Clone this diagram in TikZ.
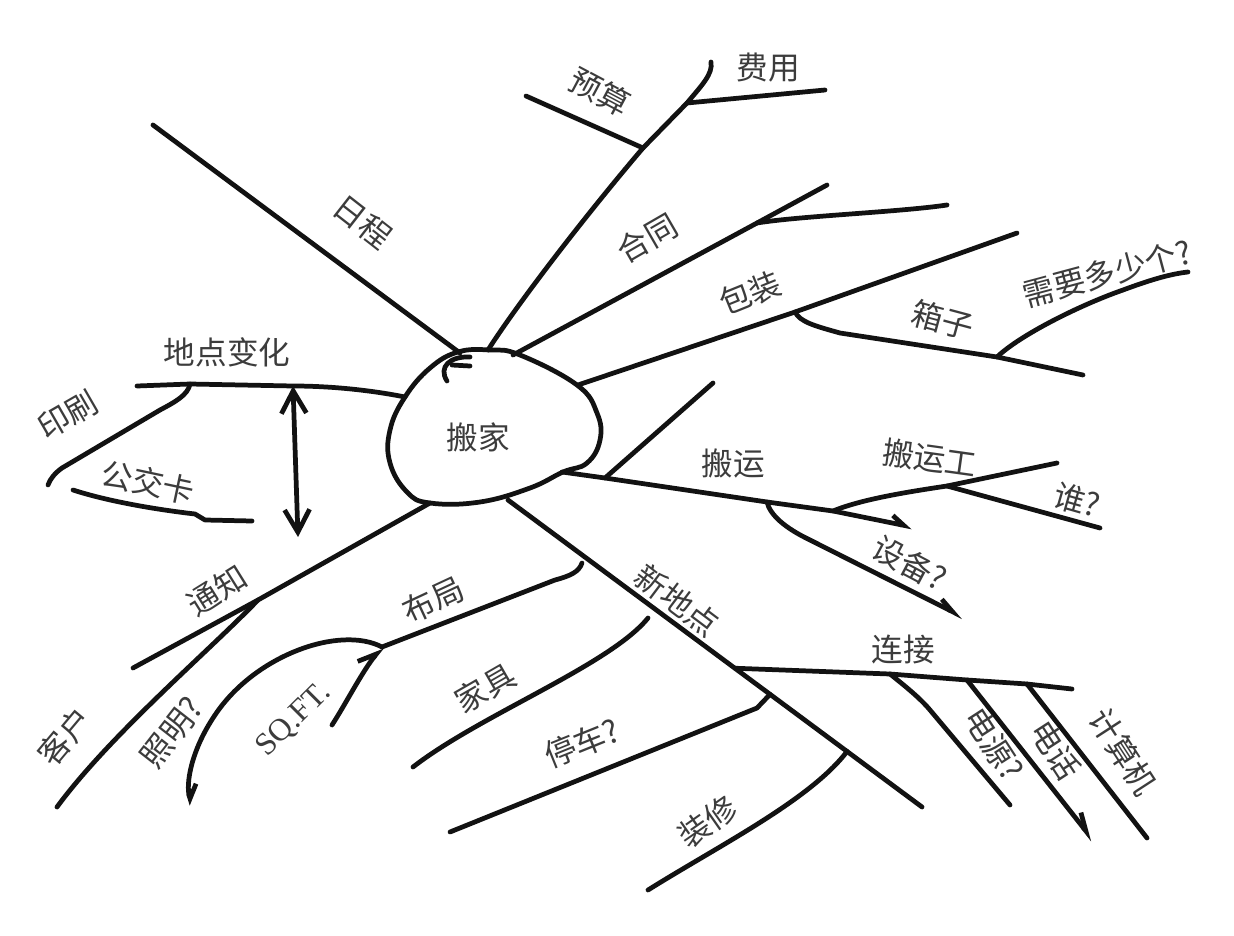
\documentclass[tikz,border=0pt]{standalone}
\usepackage{fontspec}
\newfontfamily\cjk{Noto Sans CJK SC}
\newfontfamily\latinserif{Liberation Serif}
\usetikzlibrary{arrows.meta, calc}
\definecolor{penink}{RGB}{18, 18, 18}
\definecolor{typeink}{RGB}{60, 60, 60}
\tikzset{
    branchline/.style={draw=penink, line width=2.7pt, line cap=round, line join=round},
    hubline/.style={branchline},
    leaftext/.style={font=\cjk\fontsize{18}{20}\selectfont, text=typeink, inner sep=0pt},
    hubtext/.style={leaftext},
    sqfttext/.style={leaftext, font=\latinserif\fontsize{18}{20}\selectfont},
    twoway/.style={branchline, <->, >={Straight Barb[length=4.5mm, width=5mm]}},
    hooktip/.style 2 args={branchline, -{Straight Barb[left, length=#1, width=#2]}},
}

\begin{document}
\begin{tikzpicture}[x=0.02cm, y=-0.02cm]
    \useasboundingbox (0,0) rectangle (1234,936);
    \fill[white] (0,0) rectangle (1234,936);

    % hub
    \draw[hubline] plot[smooth cycle, tension=0.7] coordinates {(490,350) (520,355) (577,385) (597,413) (600,440) (587,463) (563,472) (530,488) (480,502) (430,503) (407,492) (390,463) (390,430) (405,397) (430,368) (458,352)};
    \node[hubtext] (hub) at (478,437) {搬家};
    \draw[hubline] (447,381) .. controls (438,367) and (450,356) .. (470,357);
    \draw[hubline] (452,365) -- (470,366);

    \coordinate (h-sched) at (460,353);
    \coordinate (h-up) at (488,350);
    \coordinate (h-contract) at (513,355);
    \coordinate (h-pack) at (578,385);
    \coordinate (h-move) at (562,472);
    \coordinate (h-new) at (508,500);
    \coordinate (h-notice) at (430,503);
    \coordinate (h-change) at (405,397);

    % 日程
    \coordinate (sched-end) at (153,125);
    \draw[branchline] (h-sched) -- (sched-end);
    \node[leaftext, rotate=-38] (t-sched) at (363,222) {日程};

    % 预算 / 费用
    \coordinate (up-budget) at (643,148);
    \coordinate (up-cost) at (687,103);
    \coordinate (up-top) at (711,62);
    \coordinate (budget-end) at (526,96);
    \coordinate (cost-end) at (825,90);
    \draw[branchline] (h-up) .. controls (520,300) and (590,210) .. (up-budget) -- (up-cost) .. controls (702,85) and (713,74) .. (up-top);
    \draw[branchline] (up-budget) -- (budget-end);
    \draw[branchline] (up-cost) -- (cost-end);
    \node[leaftext, rotate=-28] (t-budget) at (600,92) {预算};
    \node[leaftext] (t-cost) at (768,68) {费用};

    % 合同
    \coordinate (contract-fork) at (757,223);
    \coordinate (contract-end) at (827,185);
    \coordinate (contract-sub) at (947,205);
    \draw[branchline] (h-contract) -- (contract-fork) -- (contract-end);
    \draw[branchline] (contract-fork) .. controls (800,216) and (900,212) .. (contract-sub);
    \node[leaftext, rotate=30] (t-contract) at (647,238) {合同};

    % 包装
    \coordinate (pack-box) at (795,312);
    \coordinate (pack-end) at (1017,233);
    \coordinate (box-fork) at (997,357);
    \coordinate (box-end) at (1083,375);
    \coordinate (qty-end) at (1188,272);
    \draw[branchline] (h-pack) -- (pack-box) -- (pack-end);
    \draw[branchline] (pack-box) .. controls (800,322) and (815,326) .. (840,333) -- (box-fork) -- (box-end);
    \draw[branchline] (box-fork) .. controls (1020,335) and (1080,305) .. (1123,290) .. controls (1150,280) and (1170,274) .. (qty-end);
    \node[leaftext, rotate=22] (t-pack) at (750,293) {包装};
    \node[leaftext, rotate=-15] (t-box) at (943,320) {箱子};
    \node[leaftext, rotate=15] (t-qty) at (1107,273) {需要多少个?};

    % 地点变化
    \coordinate (change-arrow) at (293,386);
    \coordinate (change-print) at (190,384);
    \coordinate (change-end) at (137,386);
    \coordinate (print-end) at (48,485);
    \coordinate (card-start) at (73,490);
    \coordinate (card-end) at (252,521);
    \coordinate (span-bot) at (298,537);
    \draw[branchline] (h-change) .. controls (370,390) and (330,386) .. (change-arrow) -- (change-print) -- (change-end);
    \draw[branchline] (change-print) .. controls (188,395) and (175,402) .. (160,410) -- (62,468) .. controls (55,473) and (50,479) .. (print-end);
    \draw[branchline] (card-start) .. controls (110,502) and (160,510) .. (195,514) -- (205,520) -- (card-end);
    \draw[twoway] (change-arrow) -- (span-bot);
    \node[leaftext] (t-change) at (227,352) {地点变化};
    \node[leaftext, rotate=30] (t-print) at (68,415) {印刷};
    \node[leaftext, rotate=-12] (t-card) at (148,482) {公交卡};

    % 通知
    \coordinate (notice-client) at (258,600);
    \coordinate (notice-end) at (133,668);
    \coordinate (client-end) at (57,807);
    \draw[branchline] (h-notice) -- (notice-client) -- (notice-end);
    \draw[branchline] (notice-client) .. controls (210,650) and (110,735) .. (client-end);
    \node[leaftext, rotate=32] (t-notice) at (217,590) {通知};
    \node[leaftext, rotate=50] (t-client) at (65,737) {客户};

    % 布局
    \coordinate (layout-top) at (582,563);
    \coordinate (layout-fork) at (382,647);
    \coordinate (light-end) at (192,805);
    \coordinate (sqft-end) at (332,725);
    \draw[branchline] (layout-top) .. controls (579,572) and (570,576) .. (555,580) -- (layout-fork);
    \draw[hooktip={2.5mm}{4mm}] (layout-fork) .. controls (340,625) and (255,655) .. (215,715) .. controls (190,752) and (186,785) .. (light-end);
    \draw[hooktip={3.5mm}{4mm}] (sqft-end) .. controls (345,705) and (362,672) .. (layout-fork);
    \node[leaftext, rotate=25] (t-layout) at (433,600) {布局};
    \node[leaftext, rotate=52] (t-light) at (172,733) {照明?};
    \node[sqfttext, rotate=45] (t-sqft) at (294,720) {SQ.FT.};

    % 新地点
    \coordinate (new-end) at (922,807);
    \draw[branchline] (h-new) -- (new-end);
    \coordinate (new-connect) at ($(h-new)!0.548!(new-end)$);
    \coordinate (new-park) at ($(h-new)!0.633!(new-end)$);
    \coordinate (new-reno) at ($(h-new)!0.819!(new-end)$);
    \coordinate (furn-top) at (648,618);
    \coordinate (furn-end) at (413,767);
    \coordinate (park-end) at (450,832);
    \coordinate (reno-end) at (648,890);
    \draw[branchline] (furn-top) .. controls (610,665) and (480,715) .. (furn-end);
    \draw[branchline] (new-park) -- (757,708) -- (park-end);
    \draw[branchline] (new-reno) .. controls (810,800) and (720,845) .. (reno-end);
    \node[leaftext, rotate=-37] (t-new) at (677,600) {新地点};
    \node[leaftext, rotate=30] (t-furn) at (485,688) {家具};
    \node[leaftext, rotate=22] (t-park) at (582,743) {停车?};
    \node[leaftext, rotate=35] (t-reno) at (708,822) {装修};

    % 连接
    \coordinate (power-fork) at (890,674);
    \coordinate (phone-fork) at (967,680);
    \coordinate (comp-fork) at (1027,684);
    \coordinate (connect-end) at (1072,689);
    \coordinate (power-end) at (1010,805);
    \coordinate (phone-end) at (1093,840);
    \coordinate (comp-end) at (1147,838);
    \draw[branchline] (new-connect) -- (power-fork) -- (phone-fork) -- (comp-fork) -- (connect-end);
    \draw[branchline] (power-fork) .. controls (905,686) and (920,698) .. (930,710) -- (power-end);
    \draw[hooktip={3.5mm}{3mm}] (phone-fork) -- (phone-end);
    \draw[branchline] (comp-fork) -- (comp-end);
    \node[leaftext] (t-connect) at (903,650) {连接};
    \node[leaftext, rotate=-57] (t-power) at (994,744) {电源?};
    \node[leaftext, rotate=-57] (t-phone) at (1056,750) {电话};
    \node[leaftext, rotate=-57] (t-comp) at (1123,752) {计算机};

    % 搬运
    \coordinate (move-side) at (605,478);
    \coordinate (move-equip) at (767,502);
    \coordinate (move-crew) at (833,511);
    \coordinate (move-end) at (912,527);
    \coordinate (side-end) at (713,383);
    \coordinate (crew-who) at (947,486);
    \coordinate (crew-end) at (1057,463);
    \coordinate (who-end) at (1100,528);
    \coordinate (equip-end) at (963,617);
    \draw[hooktip={2.5mm}{3mm}] (h-move) -- (move-side) -- (move-equip) -- (move-crew) -- (move-end);
    \draw[branchline] (move-side) -- (side-end);
    \draw[branchline] (move-crew) .. controls (860,500) and (900,493) .. (crew-who) -- (crew-end);
    \draw[branchline] (crew-who) -- (who-end);
    \draw[hooktip={3mm}{2.5mm}] (move-equip) .. controls (770,515) and (785,528) .. (810,540) -- (equip-end);
    \node[leaftext] (t-move) at (733,463) {搬运};
    \node[leaftext, rotate=-8] (t-crew) at (930,458) {搬运工};
    \node[leaftext, rotate=-16] (t-who) at (1077,500) {谁?};
    \node[leaftext, rotate=-28] (t-equip) at (910,563) {设备?};
\end{tikzpicture}
\end{document}
